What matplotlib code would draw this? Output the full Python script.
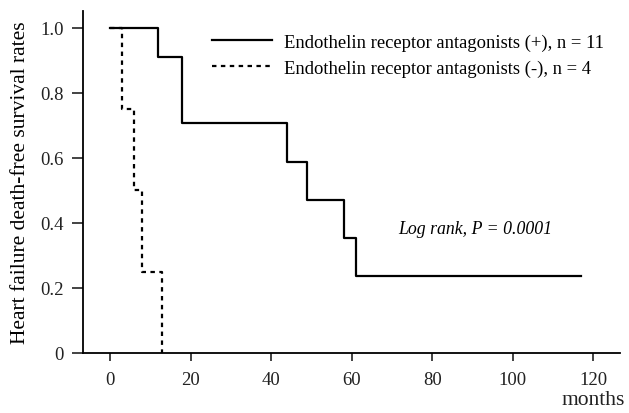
import matplotlib
matplotlib.use('Agg')
import matplotlib.pyplot as plt

# Kaplan-Meier step values
era_pos_t = [0, 12, 18, 44, 49, 58, 61, 117]
era_pos_s = [1.0, 0.909, 0.707, 0.589, 0.471, 0.354, 0.236, 0.236]
era_neg_t = [0, 3, 6, 8, 13, 13]
era_neg_s = [1.0, 0.75, 0.5, 0.25, 0.0, 0.0]

labels = ['Endothelin receptor antagonists (+), n = 11',
          'Endothelin receptor antagonists (-), n = 4']

plt.rcParams['font.family'] = ['Liberation Serif', 'DejaVu Serif']
plt.rcParams['font.size'] = 13.5

fig = plt.figure(figsize=(6.29, 4.14), dpi=100)
ax = fig.add_axes([0.132, 0.145, 0.854, 0.826])

ax.step(era_pos_t, era_pos_s, where='post', color='black', lw=1.6, label=labels[0])
ax.step(era_neg_t, era_neg_s, where='post', color='black', lw=1.6,
        linestyle=(0, (2, 2)), label=labels[1])

ax.set_xlim(-6.7, 126.7)
ax.set_ylim(0, 1.052)
ax.set_xticks([0, 20, 40, 60, 80, 100, 120])
ax.set_yticks([0, 0.2, 0.4, 0.6, 0.8, 1.0])
ax.set_yticklabels(['0', '0.2', '0.4', '0.6', '0.8', '1.0'])
for s in ['top', 'right']:
    ax.spines[s].set_visible(False)
ax.spines['left'].set_linewidth(1.3)
ax.spines['bottom'].set_linewidth(1.3)
ax.tick_params(axis='y', length=8, width=1.2, pad=6, colors='#222222')
ax.tick_params(axis='x', length=6, width=1.2, pad=7, colors='#222222')

ax.set_ylabel('Heart failure death-free survival rates', fontsize=15.5, labelpad=7)
fig.text(0.993, 0.022, 'months', ha='right', va='baseline', fontsize=15.5, color='#222222')

ax.text(90.7, 0.382, 'Log rank, P = 0.0001', style='italic', ha='center', va='center',
        fontsize=12.8)

ax.legend(loc='upper left', bbox_to_anchor=(0.24, 0.934), frameon=False,
          borderpad=0, borderaxespad=0, handlelength=3.2, handletextpad=0.65,
          labelspacing=0.45, fontsize=13.4)

fig.savefig('out.png', dpi=100)
